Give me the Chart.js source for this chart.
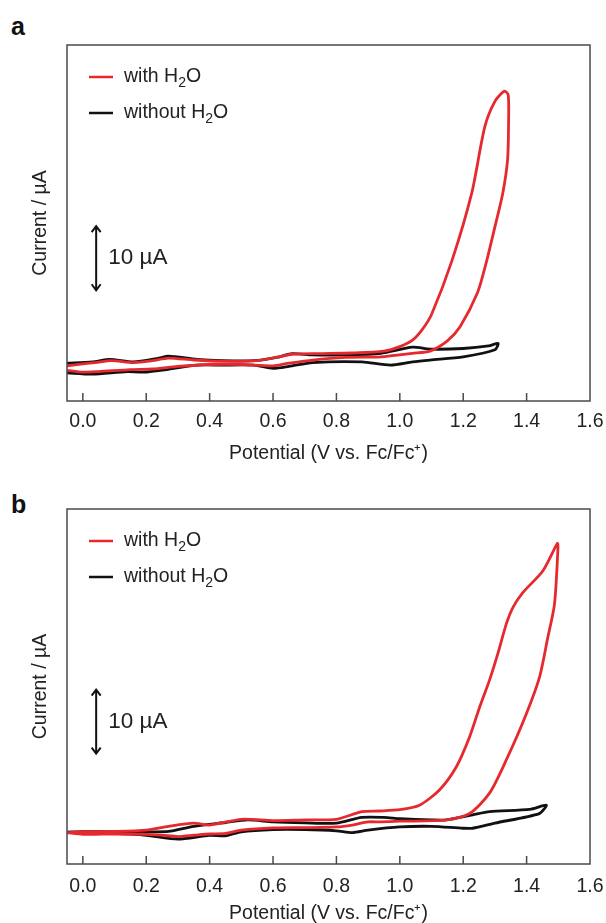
<!DOCTYPE html>
<html>
<head>
<meta charset="utf-8">
<script src="https://cdn.jsdelivr.net/npm/chart.js@4.4.1/dist/chart.umd.min.js"></script>
<style>
  html, body { margin: 0; padding: 0; background: #fff; }
  #wrap { position: relative; width: 606px; height: 923px; overflow: hidden; }
  .panel { position: absolute; left: 0; width: 606px; }
  .tag { position: absolute; left: 11px; font: bold 25px "Liberation Sans", Arial, sans-serif; line-height: 25px; color: #111; }
</style>
</head>
<body>
<div id="wrap">
  <div class="tag" style="top:14px">a</div>
  <div class="tag" style="top:492px">b</div>
  <div class="panel" style="top:0;height:470px"><canvas id="chartA"></canvas></div>
  <div class="panel" style="top:470px;height:455px"><canvas id="chartB"></canvas></div>
</div>
<script>
// eixo x (potencial) e faixa do eixo y (corrente, sem rótulos)
const xTicks = [0.0, 0.2, 0.4, 0.6, 0.8, 1.0, 1.2, 1.4, 1.6];
const xRange = [-0.05, 1.6];
const yRange = [-5, 50.6];

// barra de escala "10 µA"
const scaleBarE = 0.042;
const scaleBarI = [12.3, 22.3];

// painel a - com H2O (ida + volta)
const aRedE = [-0.05, 0.0, 0.04, 0.09, 0.16, 0.22, 0.27, 0.35, 0.45, 0.55, 0.62, 0.66, 0.75, 0.85, 0.95, 1.0, 1.04, 1.07, 1.10, 1.165, 1.227, 1.268, 1.30, 1.33,
  1.342, 1.343, 1.34, 1.325, 1.30, 1.272, 1.245, 1.19, 1.15, 1.095, 1.04, 0.94, 0.83, 0.725, 0.65, 0.6, 0.5, 0.4, 0.3, 0.22, 0.15, 0.05, 0.0, -0.05];
const aRedI = [0.5, 0.8, 1.0, 1.3, 1.0, 1.3, 1.7, 1.4, 1.2, 1.3, 1.9, 2.3, 2.4, 2.5, 2.8, 3.5, 4.5, 6.1, 8.5, 17.0, 27.5, 37.8, 41.8, 43.4,
  42.8, 38.0, 32.7, 27.5, 22.2, 16.5, 11.9, 6.6, 4.4, 2.8, 2.45, 1.9, 1.8, 1.4, 0.9, 0.5, 0.7, 0.7, 0.4, 0.0, -0.1, -0.4, -0.5, -0.2];
// painel a - sem H2O
const aBlackE = [-0.05, 0.03, 0.085, 0.16, 0.24, 0.27, 0.36, 0.44, 0.54, 0.62, 0.66, 0.725, 0.83, 0.94, 1.04, 1.095, 1.2, 1.28, 1.31,
  1.30, 1.2, 1.095, 1.04, 0.97, 0.88, 0.725, 0.65, 0.60, 0.54, 0.44, 0.36, 0.27, 0.19, 0.14, 0.03, -0.05];
const aBlackI = [0.9, 1.1, 1.5, 1.1, 1.7, 2.0, 1.5, 1.3, 1.3, 1.9, 2.4, 2.2, 2.2, 2.45, 3.4, 3.1, 3.2, 3.6, 4.0,
  3.0, 1.9, 1.4, 1.1, 0.6, 1.1, 1.0, 0.4, 0.1, 0.6, 0.6, 0.6, -0.05, -0.5, -0.4, -0.8, -0.6];

// painel b - com H2O
const bRedE = [-0.05, 0.0, 0.1, 0.2, 0.27, 0.35, 0.4, 0.5, 0.6, 0.7, 0.8, 0.88, 0.936, 1.0, 1.062, 1.125, 1.178, 1.22, 1.252, 1.283, 1.309, 1.336, 1.357, 1.388, 1.451, 1.497,
  1.499, 1.488, 1.467, 1.441, 1.399, 1.336, 1.283, 1.22, 1.147, 1.0, 0.936, 0.9, 0.85, 0.8, 0.7, 0.6, 0.5, 0.45, 0.4, 0.35, 0.3, 0.25, 0.2, 0.1, 0.0, -0.05];
const bRedI = [-0.1, 0.05, 0.1, 0.3, 0.9, 1.4, 1.1, 2.0, 1.8, 1.9, 2.0, 3.2, 3.3, 3.5, 4.2, 6.6, 10.2, 14.9, 19.6, 23.8, 27.9, 32.6, 35.2, 37.5, 40.9, 45.2,
  44.6, 35.7, 30.5, 24.3, 18.5, 11.3, 6.1, 2.9, 1.9, 1.7, 1.6, 1.6, 1.1, 0.8, 0.7, 0.65, 0.3, -0.2, -0.3, -0.5, -0.7, -0.5, -0.35, -0.3, -0.35, -0.1];
// painel b - sem H2O
const bBlackE = [-0.05, 0.0, 0.1, 0.2, 0.3, 0.4, 0.45, 0.5, 0.6, 0.7, 0.8, 0.85, 0.9, 1.0, 1.1, 1.2, 1.23, 1.3, 1.44, 1.462,
  1.41, 1.283, 1.23, 1.147, 1.1, 1.0, 0.95, 0.88, 0.8, 0.7, 0.6, 0.52, 0.45, 0.35, 0.27, 0.2, 0.0, -0.05];
const bBlackI = [-0.1, -0.1, -0.2, -0.5, -1.1, -0.5, -0.6, 0.05, 0.4, 0.4, 0.2, -0.1, 0.3, 0.8, 0.9, 0.6, 0.6, 1.4, 2.9, 4.2,
  3.55, 3.2, 2.7, 1.9, 1.9, 2.1, 2.3, 2.3, 1.4, 1.45, 1.6, 1.9, 1.5, 0.9, 0.1, 0.05, 0.05, 0.0];

const RED = '#e6292e';
const BLACK = '#111111';
const TEXT = '#222222';
const FONT = '"Liberation Sans", Arial, sans-serif';
const FS = 19.5; // tamanho da fonte dos textos

function pts(E, I) {
  return E.map((e, i) => ({ x: e, y: I[i] }));
}

// moldura, ticks para dentro, legenda e barra de escala
const panelDecor = {
  id: 'panelDecor',
  afterDraw(chart) {
    const { ctx, chartArea: a, scales: { x, y } } = chart;
    ctx.save();

    ctx.strokeStyle = '#4a4a4a';
    ctx.lineWidth = 1.5;
    ctx.strokeRect(a.left, a.top, a.right - a.left, a.bottom - a.top);

    xTicks.forEach(v => {
      const px = x.getPixelForValue(v);
      if (px < a.right - 2) {
        ctx.beginPath();
        ctx.moveTo(px, a.bottom);
        ctx.lineTo(px, a.bottom - 8);
        ctx.stroke();
      }
    });

    // legenda com subscrito
    ctx.textBaseline = 'middle';
    chart.data.datasets.forEach((ds, i) => {
      const ly = a.top + 32 + i * 36;
      ctx.strokeStyle = ds.borderColor;
      ctx.lineWidth = 2.5;
      ctx.beginPath();
      ctx.moveTo(a.left + 22, ly);
      ctx.lineTo(a.left + 46, ly);
      ctx.stroke();
      const parts = ds.label.split('₂');
      let tx = a.left + 57;
      ctx.fillStyle = TEXT;
      ctx.font = FS + 'px ' + FONT;
      ctx.fillText(parts[0], tx, ly);
      tx += ctx.measureText(parts[0]).width;
      ctx.font = '14px ' + FONT;
      ctx.fillText('2', tx, ly + 6);
      tx += ctx.measureText('2').width;
      ctx.font = FS + 'px ' + FONT;
      ctx.fillText(parts[1], tx, ly);
    });

    // barra de escala
    const bx = x.getPixelForValue(scaleBarE);
    const y1 = y.getPixelForValue(scaleBarI[1]);
    const y2 = y.getPixelForValue(scaleBarI[0]);
    ctx.strokeStyle = BLACK;
    ctx.lineWidth = 2;
    ctx.beginPath();
    ctx.moveTo(bx, y1);
    ctx.lineTo(bx, y2);
    ctx.moveTo(bx - 4.5, y1 + 6);
    ctx.lineTo(bx, y1);
    ctx.lineTo(bx + 4.5, y1 + 6);
    ctx.moveTo(bx - 4.5, y2 - 6);
    ctx.lineTo(bx, y2);
    ctx.lineTo(bx + 4.5, y2 - 6);
    ctx.stroke();
    ctx.fillStyle = TEXT;
    ctx.font = '22.5px ' + FONT;
    ctx.textAlign = 'left';
    ctx.fillText('10 µA', bx + 12, (y1 + y2) / 2);

    ctx.restore();
  }
};

function makePanel(id, red, black, padTop, xScaleH, tickPad, titlePadB) {
  return new Chart(document.getElementById(id), {
    type: 'scatter',
    data: {
      datasets: [
        { label: 'with H₂O', data: pts(red[0], red[1]), showLine: true, borderColor: RED, borderWidth: 2.8, pointRadius: 0, tension: 0.25, fill: false },
        { label: 'without H₂O', data: pts(black[0], black[1]), showLine: true, borderColor: BLACK, borderWidth: 2.8, pointRadius: 0, tension: 0.25, fill: false }
      ]
    },
    options: {
      responsive: true,
      maintainAspectRatio: false,
      animation: false,
      layout: { padding: { top: padTop, right: 16, left: 0, bottom: 0 } },
      plugins: { legend: { display: false }, tooltip: { enabled: false } },
      scales: {
        x: {
          type: 'linear',
          min: xRange[0],
          max: xRange[1],
          grid: { display: false, drawTicks: false },
          border: { display: false },
          afterBuildTicks: s => { s.ticks = xTicks.map(v => ({ value: v })); },
          afterFit: s => { s.height = xScaleH; s.paddingLeft = 0; s.paddingRight = 0; },
          ticks: {
            padding: tickPad, color: TEXT, font: { family: FONT, size: FS },
            maxRotation: 0, autoSkip: false,
            callback: v => v.toFixed(1)
          },
          title: {
            display: true, text: 'Potential (V vs. Fc/Fc⁺)', color: TEXT,
            font: { family: FONT, size: FS }, padding: { top: 0, bottom: titlePadB }
          }
        },
        y: {
          min: yRange[0],
          max: yRange[1],
          grid: { display: false, drawTicks: false },
          border: { display: false },
          ticks: { display: false },
          afterFit: s => { s.width = 67; s.paddingTop = 0; s.paddingBottom = 0; },
          title: {
            display: true, text: 'Current / µA', color: TEXT,
            font: { family: FONT, size: FS }, padding: { top: 29, bottom: 0 }
          }
        }
      }
    },
    plugins: [panelDecor]
  });
}

makePanel('chartA', [aRedE, aRedI], [aBlackE, aBlackI], 45, 69, 9, 5);
makePanel('chartB', [bRedE, bRedI], [bBlackE, bBlackI], 39, 61, 11, 0);
</script>
</body>
</html>
